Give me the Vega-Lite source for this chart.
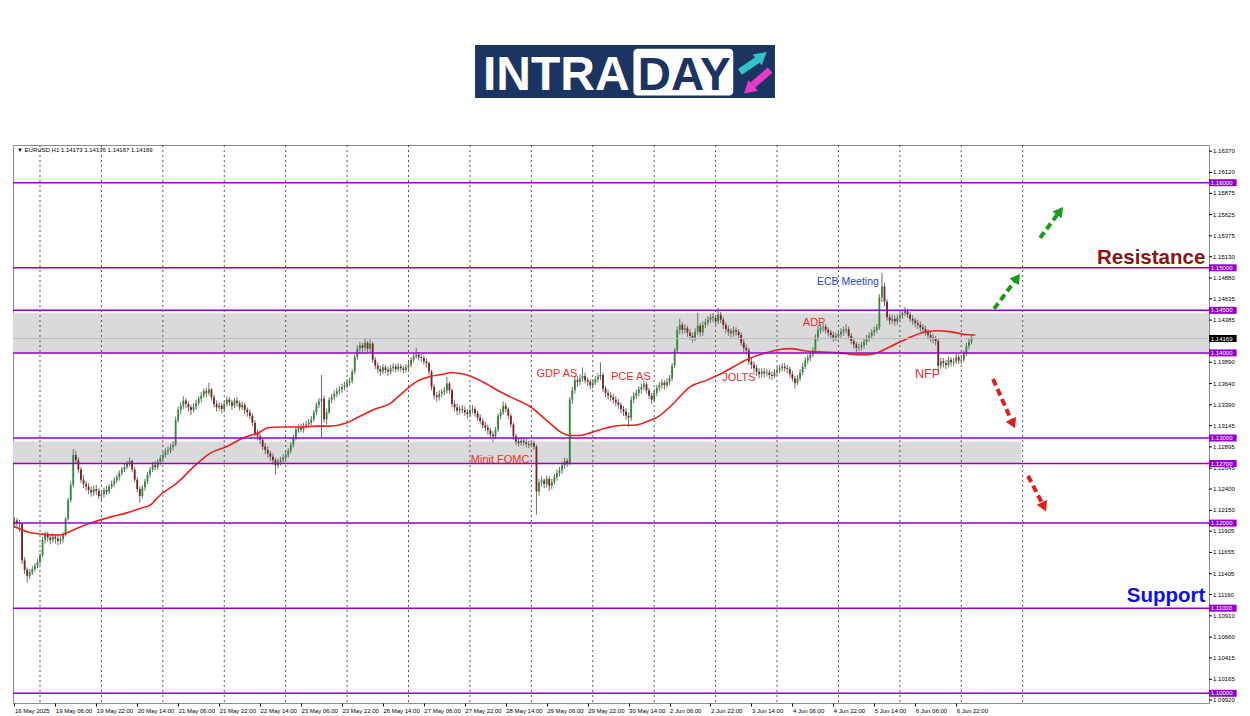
{
"$schema":"https://vega.github.io/schema/vega-lite/v6.json",
"width":1196,"height":558,
"autosize":{"type":"none"},
"padding":{"left":13,"top":145,"right":41,"bottom":13},
"background":"white",
"config":{"view":{"stroke":"#8c8c8c","strokeWidth":1},"font":"Liberation Sans","scale":{"continuousPadding":0}},
"datasets":{
"c":[
{"i":0,"o":1.1198,"h":1.1207,"l":1.1194,"c":1.1203},{"i":1,"o":1.1203,"h":1.1206,"l":1.1196,"c":1.1200},{"i":2,"o":1.1200,"h":1.1204,"l":1.1190,"c":1.1199},{"i":3,"o":1.1199,"h":1.1201,"l":1.1152,"c":1.1156},{"i":4,"o":1.1156,"h":1.1160,"l":1.1140,"c":1.1145},{"i":5,"o":1.1145,"h":1.1148,"l":1.1130,"c":1.1138},{"i":6,"o":1.1138,"h":1.1146,"l":1.1134,"c":1.1142},{"i":7,"o":1.1142,"h":1.1150,"l":1.1139,"c":1.1146},{"i":8,"o":1.1146,"h":1.1153,"l":1.1143,"c":1.1150},{"i":9,"o":1.1150,"h":1.1158,"l":1.1147,"c":1.1154},
{"i":10,"o":1.1154,"h":1.1165,"l":1.1151,"c":1.1162},{"i":11,"o":1.1162,"h":1.1184,"l":1.1160,"c":1.1180},{"i":12,"o":1.1180,"h":1.1190,"l":1.1176,"c":1.1186},{"i":13,"o":1.1186,"h":1.1190,"l":1.1178,"c":1.1183},{"i":14,"o":1.1183,"h":1.1187,"l":1.1175,"c":1.1180},{"i":15,"o":1.1180,"h":1.1188,"l":1.1177,"c":1.1184},{"i":16,"o":1.1184,"h":1.1187,"l":1.1176,"c":1.1182},{"i":17,"o":1.1182,"h":1.1186,"l":1.1174,"c":1.1179},{"i":18,"o":1.1179,"h":1.1185,"l":1.1175,"c":1.1181},{"i":19,"o":1.1181,"h":1.1189,"l":1.1177,"c":1.1186},
{"i":20,"o":1.1186,"h":1.1207,"l":1.1184,"c":1.1205},{"i":21,"o":1.1205,"h":1.1230,"l":1.1203,"c":1.1227},{"i":22,"o":1.1227,"h":1.1249,"l":1.1224,"c":1.1245},{"i":23,"o":1.1245,"h":1.1287,"l":1.1242,"c":1.1280},{"i":24,"o":1.1280,"h":1.1285,"l":1.1270,"c":1.1274},{"i":25,"o":1.1274,"h":1.1277,"l":1.1259,"c":1.1263},{"i":26,"o":1.1263,"h":1.1266,"l":1.1247,"c":1.1251},{"i":27,"o":1.1251,"h":1.1256,"l":1.1241,"c":1.1246},{"i":28,"o":1.1246,"h":1.1250,"l":1.1238,"c":1.1243},{"i":29,"o":1.1243,"h":1.1247,"l":1.1234,"c":1.1239},
{"i":30,"o":1.1239,"h":1.1243,"l":1.1231,"c":1.1236},{"i":31,"o":1.1236,"h":1.1244,"l":1.1232,"c":1.1240},{"i":32,"o":1.1240,"h":1.1245,"l":1.1233,"c":1.1238},{"i":33,"o":1.1238,"h":1.1241,"l":1.1228,"c":1.1232},{"i":34,"o":1.1232,"h":1.1238,"l":1.1226,"c":1.1234},{"i":35,"o":1.1234,"h":1.1242,"l":1.1230,"c":1.1239},{"i":36,"o":1.1239,"h":1.1244,"l":1.1233,"c":1.1237},{"i":37,"o":1.1237,"h":1.1246,"l":1.1234,"c":1.1243},{"i":38,"o":1.1243,"h":1.1250,"l":1.1240,"c":1.1246},{"i":39,"o":1.1246,"h":1.1254,"l":1.1243,"c":1.1250},
{"i":40,"o":1.1250,"h":1.1257,"l":1.1247,"c":1.1254},{"i":41,"o":1.1254,"h":1.1262,"l":1.1250,"c":1.1259},{"i":42,"o":1.1259,"h":1.1266,"l":1.1256,"c":1.1263},{"i":43,"o":1.1263,"h":1.1270,"l":1.1260,"c":1.1266},{"i":44,"o":1.1266,"h":1.1273,"l":1.1263,"c":1.1270},{"i":45,"o":1.1270,"h":1.1277,"l":1.1266,"c":1.1273},{"i":46,"o":1.1273,"h":1.1275,"l":1.1260,"c":1.1263},{"i":47,"o":1.1263,"h":1.1266,"l":1.1248,"c":1.1251},{"i":48,"o":1.1251,"h":1.1254,"l":1.1236,"c":1.1240},{"i":49,"o":1.1240,"h":1.1243,"l":1.1224,"c":1.1232},
{"i":50,"o":1.1232,"h":1.1245,"l":1.1229,"c":1.1242},{"i":51,"o":1.1242,"h":1.1252,"l":1.1238,"c":1.1249},{"i":52,"o":1.1249,"h":1.1260,"l":1.1246,"c":1.1257},{"i":53,"o":1.1257,"h":1.1266,"l":1.1253,"c":1.1263},{"i":54,"o":1.1263,"h":1.1272,"l":1.1260,"c":1.1268},{"i":55,"o":1.1268,"h":1.1273,"l":1.1262,"c":1.1266},{"i":56,"o":1.1266,"h":1.1275,"l":1.1263,"c":1.1272},{"i":57,"o":1.1272,"h":1.1280,"l":1.1268,"c":1.1276},{"i":58,"o":1.1276,"h":1.1284,"l":1.1273,"c":1.1280},{"i":59,"o":1.1280,"h":1.1288,"l":1.1277,"c":1.1284},
{"i":60,"o":1.1284,"h":1.1290,"l":1.1280,"c":1.1286},{"i":61,"o":1.1286,"h":1.1293,"l":1.1282,"c":1.1289},{"i":62,"o":1.1289,"h":1.1296,"l":1.1285,"c":1.1292},{"i":63,"o":1.1292,"h":1.1325,"l":1.1290,"c":1.1321},{"i":64,"o":1.1321,"h":1.1337,"l":1.1318,"c":1.1333},{"i":65,"o":1.1333,"h":1.1342,"l":1.1328,"c":1.1338},{"i":66,"o":1.1338,"h":1.1349,"l":1.1334,"c":1.1344},{"i":67,"o":1.1344,"h":1.1347,"l":1.1335,"c":1.1340},{"i":68,"o":1.1340,"h":1.1343,"l":1.1331,"c":1.1336},{"i":69,"o":1.1336,"h":1.1339,"l":1.1327,"c":1.1333},
{"i":70,"o":1.1333,"h":1.1341,"l":1.1330,"c":1.1337},{"i":71,"o":1.1337,"h":1.1345,"l":1.1333,"c":1.1341},{"i":72,"o":1.1341,"h":1.1349,"l":1.1338,"c":1.1346},{"i":73,"o":1.1346,"h":1.1354,"l":1.1342,"c":1.1350},{"i":74,"o":1.1350,"h":1.1358,"l":1.1347,"c":1.1355},{"i":75,"o":1.1355,"h":1.1359,"l":1.1348,"c":1.1353},{"i":76,"o":1.1353,"h":1.1365,"l":1.1350,"c":1.1357},{"i":77,"o":1.1357,"h":1.1359,"l":1.1344,"c":1.1348},{"i":78,"o":1.1348,"h":1.1351,"l":1.1336,"c":1.1340},{"i":79,"o":1.1340,"h":1.1344,"l":1.1331,"c":1.1336},
{"i":80,"o":1.1336,"h":1.1342,"l":1.1332,"c":1.1338},{"i":81,"o":1.1338,"h":1.1341,"l":1.1329,"c":1.1334},{"i":82,"o":1.1334,"h":1.1343,"l":1.1331,"c":1.1340},{"i":83,"o":1.1340,"h":1.1349,"l":1.1337,"c":1.1345},{"i":84,"o":1.1345,"h":1.1348,"l":1.1338,"c":1.1342},{"i":85,"o":1.1342,"h":1.1345,"l":1.1333,"c":1.1338},{"i":86,"o":1.1338,"h":1.1347,"l":1.1335,"c":1.1344},{"i":87,"o":1.1344,"h":1.1348,"l":1.1337,"c":1.1341},{"i":88,"o":1.1341,"h":1.1344,"l":1.1332,"c":1.1336},{"i":89,"o":1.1336,"h":1.1343,"l":1.1333,"c":1.1339},
{"i":90,"o":1.1339,"h":1.1342,"l":1.1328,"c":1.1333},{"i":91,"o":1.1333,"h":1.1336,"l":1.1325,"c":1.1330},{"i":92,"o":1.1330,"h":1.1334,"l":1.1322,"c":1.1326},{"i":93,"o":1.1326,"h":1.1329,"l":1.1314,"c":1.1318},{"i":94,"o":1.1318,"h":1.1321,"l":1.1302,"c":1.1306},{"i":95,"o":1.1306,"h":1.1310,"l":1.1297,"c":1.1302},{"i":96,"o":1.1302,"h":1.1306,"l":1.1293,"c":1.1298},{"i":97,"o":1.1298,"h":1.1301,"l":1.1286,"c":1.1290},{"i":98,"o":1.1290,"h":1.1294,"l":1.1281,"c":1.1286},{"i":99,"o":1.1286,"h":1.1290,"l":1.1277,"c":1.1282},
{"i":100,"o":1.1282,"h":1.1285,"l":1.1273,"c":1.1278},{"i":101,"o":1.1278,"h":1.1282,"l":1.1269,"c":1.1274},{"i":102,"o":1.1274,"h":1.1277,"l":1.1257,"c":1.1268},{"i":103,"o":1.1268,"h":1.1276,"l":1.1264,"c":1.1272},{"i":104,"o":1.1272,"h":1.1278,"l":1.1268,"c":1.1274},{"i":105,"o":1.1274,"h":1.1281,"l":1.1270,"c":1.1277},{"i":106,"o":1.1277,"h":1.1284,"l":1.1273,"c":1.1280},{"i":107,"o":1.1280,"h":1.1288,"l":1.1277,"c":1.1285},{"i":108,"o":1.1285,"h":1.1295,"l":1.1282,"c":1.1292},{"i":109,"o":1.1292,"h":1.1304,"l":1.1289,"c":1.1300},
{"i":110,"o":1.1300,"h":1.1313,"l":1.1297,"c":1.1310},{"i":111,"o":1.1310,"h":1.1316,"l":1.1306,"c":1.1312},{"i":112,"o":1.1313,"h":1.1317,"l":1.1307,"c":1.1310},{"i":113,"o":1.1310,"h":1.1318,"l":1.1306,"c":1.1314},{"i":114,"o":1.1314,"h":1.1320,"l":1.1311,"c":1.1316},{"i":115,"o":1.1316,"h":1.1322,"l":1.1312,"c":1.1318},{"i":116,"o":1.1318,"h":1.1326,"l":1.1315,"c":1.1322},{"i":117,"o":1.1322,"h":1.1333,"l":1.1319,"c":1.1330},{"i":118,"o":1.1330,"h":1.1342,"l":1.1327,"c":1.1339},{"i":119,"o":1.1339,"h":1.1347,"l":1.1335,"c":1.1343},
{"i":120,"o":1.1343,"h":1.1374,"l":1.1300,"c":1.1346},{"i":121,"o":1.1346,"h":1.1350,"l":1.1318,"c":1.1322},{"i":122,"o":1.1322,"h":1.1334,"l":1.1316,"c":1.1330},{"i":123,"o":1.1330,"h":1.1348,"l":1.1328,"c":1.1345},{"i":124,"o":1.1345,"h":1.1352,"l":1.1341,"c":1.1348},{"i":125,"o":1.1348,"h":1.1356,"l":1.1344,"c":1.1352},{"i":126,"o":1.1352,"h":1.1359,"l":1.1348,"c":1.1355},{"i":127,"o":1.1355,"h":1.1361,"l":1.1351,"c":1.1357},{"i":128,"o":1.1357,"h":1.1364,"l":1.1353,"c":1.1360},{"i":129,"o":1.1360,"h":1.1366,"l":1.1356,"c":1.1362},
{"i":130,"o":1.1362,"h":1.1369,"l":1.1358,"c":1.1365},{"i":131,"o":1.1365,"h":1.1371,"l":1.1361,"c":1.1367},{"i":132,"o":1.1367,"h":1.1381,"l":1.1364,"c":1.1378},{"i":133,"o":1.1378,"h":1.1398,"l":1.1375,"c":1.1395},{"i":134,"o":1.1395,"h":1.1409,"l":1.1392,"c":1.1405},{"i":135,"o":1.1405,"h":1.1413,"l":1.1400,"c":1.1409},{"i":136,"o":1.1409,"h":1.1412,"l":1.1401,"c":1.1406},{"i":137,"o":1.1406,"h":1.1417,"l":1.1402,"c":1.1412},{"i":138,"o":1.1412,"h":1.1414,"l":1.1400,"c":1.1405},{"i":139,"o":1.1405,"h":1.1416,"l":1.1401,"c":1.1411},
{"i":140,"o":1.1411,"h":1.1413,"l":1.1388,"c":1.1392},{"i":141,"o":1.1392,"h":1.1395,"l":1.1381,"c":1.1385},{"i":142,"o":1.1385,"h":1.1389,"l":1.1376,"c":1.1381},{"i":143,"o":1.1381,"h":1.1385,"l":1.1373,"c":1.1378},{"i":144,"o":1.1378,"h":1.1387,"l":1.1375,"c":1.1383},{"i":145,"o":1.1383,"h":1.1386,"l":1.1376,"c":1.1380},{"i":146,"o":1.1380,"h":1.1384,"l":1.1373,"c":1.1378},{"i":147,"o":1.1378,"h":1.1386,"l":1.1375,"c":1.1382},{"i":148,"o":1.1382,"h":1.1388,"l":1.1378,"c":1.1384},{"i":149,"o":1.1384,"h":1.1387,"l":1.1377,"c":1.1381},
{"i":150,"o":1.1381,"h":1.1388,"l":1.1378,"c":1.1384},{"i":151,"o":1.1384,"h":1.1387,"l":1.1378,"c":1.1382},{"i":152,"o":1.1382,"h":1.1385,"l":1.1376,"c":1.1380},{"i":153,"o":1.1380,"h":1.1387,"l":1.1377,"c":1.1383},{"i":154,"o":1.1383,"h":1.1390,"l":1.1379,"c":1.1386},{"i":155,"o":1.1386,"h":1.1395,"l":1.1383,"c":1.1392},{"i":156,"o":1.1392,"h":1.1400,"l":1.1389,"c":1.1396},{"i":157,"o":1.1396,"h":1.1406,"l":1.1393,"c":1.1398},{"i":158,"o":1.1398,"h":1.1401,"l":1.1391,"c":1.1395},{"i":159,"o":1.1395,"h":1.1399,"l":1.1389,"c":1.1394},
{"i":160,"o":1.1394,"h":1.1397,"l":1.1386,"c":1.1390},{"i":161,"o":1.1390,"h":1.1393,"l":1.1383,"c":1.1388},{"i":162,"o":1.1388,"h":1.1390,"l":1.1374,"c":1.1378},{"i":163,"o":1.1378,"h":1.1380,"l":1.1356,"c":1.1360},{"i":164,"o":1.1360,"h":1.1363,"l":1.1345,"c":1.1350},{"i":165,"o":1.1350,"h":1.1354,"l":1.1343,"c":1.1348},{"i":166,"o":1.1348,"h":1.1356,"l":1.1344,"c":1.1352},{"i":167,"o":1.1352,"h":1.1358,"l":1.1348,"c":1.1354},{"i":168,"o":1.1354,"h":1.1360,"l":1.1350,"c":1.1356},{"i":169,"o":1.1356,"h":1.1372,"l":1.1352,"c":1.1364},
{"i":170,"o":1.1364,"h":1.1366,"l":1.1352,"c":1.1356},{"i":171,"o":1.1356,"h":1.1358,"l":1.1336,"c":1.1340},{"i":172,"o":1.1340,"h":1.1344,"l":1.1331,"c":1.1336},{"i":173,"o":1.1336,"h":1.1340,"l":1.1327,"c":1.1332},{"i":174,"o":1.1332,"h":1.1338,"l":1.1328,"c":1.1334},{"i":175,"o":1.1334,"h":1.1339,"l":1.1329,"c":1.1333},{"i":176,"o":1.1333,"h":1.1337,"l":1.1326,"c":1.1330},{"i":177,"o":1.1330,"h":1.1334,"l":1.1323,"c":1.1328},{"i":178,"o":1.1328,"h":1.1337,"l":1.1325,"c":1.1333},{"i":179,"o":1.1333,"h":1.1339,"l":1.1329,"c":1.1334},
{"i":180,"o":1.1334,"h":1.1337,"l":1.1325,"c":1.1329},{"i":181,"o":1.1329,"h":1.1332,"l":1.1320,"c":1.1324},{"i":182,"o":1.1324,"h":1.1328,"l":1.1316,"c":1.1320},{"i":183,"o":1.1320,"h":1.1323,"l":1.1311,"c":1.1315},{"i":184,"o":1.1315,"h":1.1319,"l":1.1308,"c":1.1312},{"i":185,"o":1.1312,"h":1.1316,"l":1.1304,"c":1.1309},{"i":186,"o":1.1309,"h":1.1312,"l":1.1300,"c":1.1304},{"i":187,"o":1.1304,"h":1.1308,"l":1.1295,"c":1.1302},{"i":188,"o":1.1302,"h":1.1313,"l":1.1299,"c":1.1310},{"i":189,"o":1.1310,"h":1.1329,"l":1.1307,"c":1.1326},
{"i":190,"o":1.1326,"h":1.1334,"l":1.1322,"c":1.1330},{"i":191,"o":1.1330,"h":1.1343,"l":1.1327,"c":1.1338},{"i":192,"o":1.1338,"h":1.1341,"l":1.1330,"c":1.1334},{"i":193,"o":1.1334,"h":1.1336,"l":1.1322,"c":1.1326},{"i":194,"o":1.1326,"h":1.1329,"l":1.1312,"c":1.1316},{"i":195,"o":1.1316,"h":1.1318,"l":1.1298,"c":1.1302},{"i":196,"o":1.1302,"h":1.1305,"l":1.1292,"c":1.1296},{"i":197,"o":1.1296,"h":1.1300,"l":1.1290,"c":1.1294},{"i":198,"o":1.1294,"h":1.1301,"l":1.1291,"c":1.1297},{"i":199,"o":1.1297,"h":1.1300,"l":1.1291,"c":1.1295},
{"i":200,"o":1.1295,"h":1.1299,"l":1.1289,"c":1.1293},{"i":201,"o":1.1293,"h":1.1297,"l":1.1288,"c":1.1292},{"i":202,"o":1.1292,"h":1.1298,"l":1.1289,"c":1.1294},{"i":203,"o":1.1294,"h":1.1297,"l":1.1286,"c":1.1290},{"i":204,"o":1.1290,"h":1.1292,"l":1.1210,"c":1.1237},{"i":205,"o":1.1237,"h":1.1252,"l":1.1232,"c":1.1248},{"i":206,"o":1.1248,"h":1.1255,"l":1.1243,"c":1.1250},{"i":207,"o":1.1250,"h":1.1253,"l":1.1241,"c":1.1246},{"i":208,"o":1.1246,"h":1.1256,"l":1.1242,"c":1.1252},{"i":209,"o":1.1252,"h":1.1255,"l":1.1238,"c":1.1244},
{"i":210,"o":1.1244,"h":1.1252,"l":1.1240,"c":1.1248},{"i":211,"o":1.1248,"h":1.1258,"l":1.1245,"c":1.1254},{"i":212,"o":1.1254,"h":1.1263,"l":1.1250,"c":1.1259},{"i":213,"o":1.1259,"h":1.1266,"l":1.1255,"c":1.1262},{"i":214,"o":1.1262,"h":1.1272,"l":1.1258,"c":1.1268},{"i":215,"o":1.1268,"h":1.1277,"l":1.1264,"c":1.1273},{"i":216,"o":1.1273,"h":1.1276,"l":1.1266,"c":1.1270},{"i":217,"o":1.1270,"h":1.1348,"l":1.1268,"c":1.1345},{"i":218,"o":1.1345,"h":1.1360,"l":1.1340,"c":1.1356},{"i":219,"o":1.1356,"h":1.1372,"l":1.1352,"c":1.1368},
{"i":220,"o":1.1368,"h":1.1373,"l":1.1360,"c":1.1366},{"i":221,"o":1.1366,"h":1.1375,"l":1.1362,"c":1.1370},{"i":222,"o":1.1370,"h":1.1383,"l":1.1366,"c":1.1373},{"i":223,"o":1.1373,"h":1.1377,"l":1.1364,"c":1.1368},{"i":224,"o":1.1368,"h":1.1371,"l":1.1361,"c":1.1366},{"i":225,"o":1.1366,"h":1.1369,"l":1.1357,"c":1.1362},{"i":226,"o":1.1362,"h":1.1369,"l":1.1358,"c":1.1365},{"i":227,"o":1.1365,"h":1.1373,"l":1.1362,"c":1.1369},{"i":228,"o":1.1369,"h":1.1376,"l":1.1365,"c":1.1372},{"i":229,"o":1.1372,"h":1.1389,"l":1.1368,"c":1.1374},
{"i":230,"o":1.1374,"h":1.1377,"l":1.1354,"c":1.1358},{"i":231,"o":1.1358,"h":1.1361,"l":1.1348,"c":1.1353},{"i":232,"o":1.1353,"h":1.1357,"l":1.1345,"c":1.1350},{"i":233,"o":1.1350,"h":1.1354,"l":1.1343,"c":1.1348},{"i":234,"o":1.1348,"h":1.1352,"l":1.1340,"c":1.1345},{"i":235,"o":1.1345,"h":1.1349,"l":1.1337,"c":1.1342},{"i":236,"o":1.1342,"h":1.1346,"l":1.1334,"c":1.1339},{"i":237,"o":1.1339,"h":1.1342,"l":1.1329,"c":1.1334},{"i":238,"o":1.1334,"h":1.1338,"l":1.1326,"c":1.1331},{"i":239,"o":1.1331,"h":1.1335,"l":1.1321,"c":1.1326},
{"i":240,"o":1.1326,"h":1.1330,"l":1.1313,"c":1.1324},{"i":241,"o":1.1324,"h":1.1349,"l":1.1320,"c":1.1345},{"i":242,"o":1.1345,"h":1.1354,"l":1.1341,"c":1.1350},{"i":243,"o":1.1350,"h":1.1357,"l":1.1346,"c":1.1353},{"i":244,"o":1.1353,"h":1.1361,"l":1.1349,"c":1.1357},{"i":245,"o":1.1357,"h":1.1364,"l":1.1352,"c":1.1360},{"i":246,"o":1.1360,"h":1.1368,"l":1.1356,"c":1.1363},{"i":247,"o":1.1363,"h":1.1366,"l":1.1352,"c":1.1356},{"i":248,"o":1.1356,"h":1.1359,"l":1.1346,"c":1.1350},{"i":249,"o":1.1350,"h":1.1353,"l":1.1340,"c":1.1345},
{"i":250,"o":1.1345,"h":1.1357,"l":1.1342,"c":1.1353},{"i":251,"o":1.1353,"h":1.1362,"l":1.1349,"c":1.1359},{"i":252,"o":1.1359,"h":1.1366,"l":1.1355,"c":1.1362},{"i":253,"o":1.1362,"h":1.1369,"l":1.1358,"c":1.1365},{"i":254,"o":1.1365,"h":1.1368,"l":1.1357,"c":1.1362},{"i":255,"o":1.1362,"h":1.1370,"l":1.1359,"c":1.1366},{"i":256,"o":1.1366,"h":1.1374,"l":1.1362,"c":1.1370},{"i":257,"o":1.1370,"h":1.1388,"l":1.1367,"c":1.1385},{"i":258,"o":1.1385,"h":1.1406,"l":1.1382,"c":1.1403},{"i":259,"o":1.1403,"h":1.1431,"l":1.1400,"c":1.1427},
{"i":260,"o":1.1427,"h":1.1440,"l":1.1422,"c":1.1433},{"i":261,"o":1.1433,"h":1.1436,"l":1.1422,"c":1.1427},{"i":262,"o":1.1427,"h":1.1434,"l":1.1423,"c":1.1429},{"i":263,"o":1.1429,"h":1.1432,"l":1.1419,"c":1.1424},{"i":264,"o":1.1424,"h":1.1428,"l":1.1415,"c":1.1420},{"i":265,"o":1.1420,"h":1.1424,"l":1.1412,"c":1.1418},{"i":266,"o":1.1418,"h":1.1429,"l":1.1414,"c":1.1425},{"i":267,"o":1.1425,"h":1.1447,"l":1.1421,"c":1.1432},{"i":268,"o":1.1432,"h":1.1435,"l":1.1419,"c":1.1424},{"i":269,"o":1.1424,"h":1.1437,"l":1.1420,"c":1.1433},
{"i":270,"o":1.1433,"h":1.1440,"l":1.1429,"c":1.1436},{"i":271,"o":1.1436,"h":1.1443,"l":1.1432,"c":1.1439},{"i":272,"o":1.1439,"h":1.1446,"l":1.1435,"c":1.1442},{"i":273,"o":1.1442,"h":1.1447,"l":1.1436,"c":1.1441},{"i":274,"o":1.1441,"h":1.1444,"l":1.1432,"c":1.1437},{"i":275,"o":1.1437,"h":1.1453,"l":1.1434,"c":1.1445},{"i":276,"o":1.1445,"h":1.1448,"l":1.1435,"c":1.1439},{"i":277,"o":1.1439,"h":1.1442,"l":1.1428,"c":1.1433},{"i":278,"o":1.1433,"h":1.1436,"l":1.1423,"c":1.1428},{"i":279,"o":1.1428,"h":1.1432,"l":1.1420,"c":1.1425},
{"i":280,"o":1.1425,"h":1.1429,"l":1.1418,"c":1.1423},{"i":281,"o":1.1423,"h":1.1431,"l":1.1419,"c":1.1427},{"i":282,"o":1.1427,"h":1.1430,"l":1.1420,"c":1.1425},{"i":283,"o":1.1425,"h":1.1428,"l":1.1416,"c":1.1421},{"i":284,"o":1.1421,"h":1.1424,"l":1.1408,"c":1.1412},{"i":285,"o":1.1412,"h":1.1416,"l":1.1401,"c":1.1406},{"i":286,"o":1.1406,"h":1.1410,"l":1.1398,"c":1.1403},{"i":287,"o":1.1403,"h":1.1406,"l":1.1386,"c":1.1390},{"i":288,"o":1.1390,"h":1.1394,"l":1.1381,"c":1.1386},{"i":289,"o":1.1386,"h":1.1390,"l":1.1377,"c":1.1382},
{"i":290,"o":1.1382,"h":1.1386,"l":1.1373,"c":1.1378},{"i":291,"o":1.1378,"h":1.1382,"l":1.1370,"c":1.1375},{"i":292,"o":1.1375,"h":1.1382,"l":1.1371,"c":1.1378},{"i":293,"o":1.1378,"h":1.1382,"l":1.1371,"c":1.1376},{"i":294,"o":1.1376,"h":1.1381,"l":1.1372,"c":1.1377},{"i":295,"o":1.1377,"h":1.1380,"l":1.1369,"c":1.1374},{"i":296,"o":1.1374,"h":1.1378,"l":1.1368,"c":1.1373},{"i":297,"o":1.1373,"h":1.1381,"l":1.1370,"c":1.1377},{"i":298,"o":1.1377,"h":1.1384,"l":1.1373,"c":1.1380},{"i":299,"o":1.1380,"h":1.1386,"l":1.1376,"c":1.1382},
{"i":300,"o":1.1382,"h":1.1388,"l":1.1378,"c":1.1384},{"i":301,"o":1.1384,"h":1.1388,"l":1.1378,"c":1.1382},{"i":302,"o":1.1382,"h":1.1386,"l":1.1376,"c":1.1381},{"i":303,"o":1.1381,"h":1.1384,"l":1.1371,"c":1.1375},{"i":304,"o":1.1375,"h":1.1379,"l":1.1366,"c":1.1370},{"i":305,"o":1.1370,"h":1.1373,"l":1.1358,"c":1.1365},{"i":306,"o":1.1365,"h":1.1374,"l":1.1362,"c":1.1370},{"i":307,"o":1.1370,"h":1.1381,"l":1.1367,"c":1.1377},{"i":308,"o":1.1377,"h":1.1388,"l":1.1374,"c":1.1384},{"i":309,"o":1.1384,"h":1.1395,"l":1.1381,"c":1.1391},
{"i":310,"o":1.1391,"h":1.1398,"l":1.1387,"c":1.1394},{"i":311,"o":1.1394,"h":1.1402,"l":1.1390,"c":1.1398},{"i":312,"o":1.1398,"h":1.1407,"l":1.1395,"c":1.1403},{"i":313,"o":1.1403,"h":1.1422,"l":1.1400,"c":1.1418},{"i":314,"o":1.1418,"h":1.1433,"l":1.1414,"c":1.1427},{"i":315,"o":1.1427,"h":1.1434,"l":1.1423,"c":1.1430},{"i":316,"o":1.1430,"h":1.1435,"l":1.1425,"c":1.1431},{"i":317,"o":1.1431,"h":1.1434,"l":1.1423,"c":1.1427},{"i":318,"o":1.1427,"h":1.1430,"l":1.1419,"c":1.1424},{"i":319,"o":1.1424,"h":1.1427,"l":1.1416,"c":1.1421},
{"i":320,"o":1.1421,"h":1.1425,"l":1.1413,"c":1.1418},{"i":321,"o":1.1418,"h":1.1424,"l":1.1414,"c":1.1420},{"i":322,"o":1.1420,"h":1.1426,"l":1.1416,"c":1.1422},{"i":323,"o":1.1422,"h":1.1429,"l":1.1418,"c":1.1425},{"i":324,"o":1.1425,"h":1.1431,"l":1.1420,"c":1.1427},{"i":325,"o":1.1427,"h":1.1434,"l":1.1423,"c":1.1428},{"i":326,"o":1.1428,"h":1.1431,"l":1.1416,"c":1.1420},{"i":327,"o":1.1420,"h":1.1423,"l":1.1410,"c":1.1414},{"i":328,"o":1.1414,"h":1.1418,"l":1.1405,"c":1.1410},{"i":329,"o":1.1410,"h":1.1413,"l":1.1401,"c":1.1406},
{"i":330,"o":1.1406,"h":1.1411,"l":1.1402,"c":1.1407},{"i":331,"o":1.1407,"h":1.1413,"l":1.1403,"c":1.1409},{"i":332,"o":1.1409,"h":1.1417,"l":1.1405,"c":1.1413},{"i":333,"o":1.1413,"h":1.1421,"l":1.1409,"c":1.1417},{"i":334,"o":1.1417,"h":1.1424,"l":1.1413,"c":1.1420},{"i":335,"o":1.1420,"h":1.1428,"l":1.1416,"c":1.1424},{"i":336,"o":1.1424,"h":1.1431,"l":1.1420,"c":1.1427},{"i":337,"o":1.1427,"h":1.1434,"l":1.1423,"c":1.1430},{"i":338,"o":1.1430,"h":1.1469,"l":1.1427,"c":1.1465},{"i":339,"o":1.1465,"h":1.1494,"l":1.1460,"c":1.1478},
{"i":340,"o":1.1478,"h":1.1482,"l":1.1455,"c":1.1460},{"i":341,"o":1.1460,"h":1.1463,"l":1.1438,"c":1.1442},{"i":342,"o":1.1442,"h":1.1446,"l":1.1433,"c":1.1438},{"i":343,"o":1.1438,"h":1.1445,"l":1.1434,"c":1.1440},{"i":344,"o":1.1440,"h":1.1444,"l":1.1432,"c":1.1437},{"i":345,"o":1.1437,"h":1.1445,"l":1.1433,"c":1.1441},{"i":346,"o":1.1441,"h":1.1448,"l":1.1437,"c":1.1444},{"i":347,"o":1.1444,"h":1.1451,"l":1.1440,"c":1.1447},{"i":348,"o":1.1447,"h":1.1454,"l":1.1443,"c":1.1450},{"i":349,"o":1.1450,"h":1.1452,"l":1.1441,"c":1.1445},
{"i":350,"o":1.1445,"h":1.1448,"l":1.1436,"c":1.1440},{"i":351,"o":1.1440,"h":1.1444,"l":1.1433,"c":1.1438},{"i":352,"o":1.1438,"h":1.1441,"l":1.1430,"c":1.1435},{"i":353,"o":1.1435,"h":1.1439,"l":1.1428,"c":1.1433},{"i":354,"o":1.1433,"h":1.1437,"l":1.1425,"c":1.1430},{"i":355,"o":1.1430,"h":1.1434,"l":1.1423,"c":1.1428},{"i":356,"o":1.1428,"h":1.1432,"l":1.1420,"c":1.1425},{"i":357,"o":1.1425,"h":1.1428,"l":1.1416,"c":1.1421},{"i":358,"o":1.1421,"h":1.1425,"l":1.1413,"c":1.1418},{"i":359,"o":1.1418,"h":1.1422,"l":1.1411,"c":1.1416},
{"i":360,"o":1.1416,"h":1.1420,"l":1.1409,"c":1.1414},{"i":361,"o":1.1414,"h":1.1417,"l":1.1377,"c":1.1385},{"i":362,"o":1.1385,"h":1.1394,"l":1.1381,"c":1.1390},{"i":363,"o":1.1390,"h":1.1394,"l":1.1383,"c":1.1388},{"i":364,"o":1.1388,"h":1.1392,"l":1.1381,"c":1.1386},{"i":365,"o":1.1386,"h":1.1396,"l":1.1383,"c":1.1392},{"i":366,"o":1.1392,"h":1.1395,"l":1.1384,"c":1.1389},{"i":367,"o":1.1389,"h":1.1394,"l":1.1385,"c":1.1390},{"i":368,"o":1.1390,"h":1.1399,"l":1.1387,"c":1.1395},{"i":369,"o":1.1395,"h":1.1398,"l":1.1387,"c":1.1391},
{"i":370,"o":1.1391,"h":1.1396,"l":1.1387,"c":1.1392},{"i":371,"o":1.1392,"h":1.1403,"l":1.1389,"c":1.1399},{"i":372,"o":1.1399,"h":1.1412,"l":1.1396,"c":1.1408},{"i":373,"o":1.1408,"h":1.1417,"l":1.1404,"c":1.1413},{"i":374,"o":1.1413,"h":1.1422,"l":1.1410,"c":1.1418},{"i":375,"o":1.14173,"h":1.14176,"l":1.14167,"c":1.14169}
],
"ma":[
{"i":0,"p":1.1196},{"i":6,"p":1.1189},{"i":11,"p":1.1187},{"i":18,"p":1.1186},{"i":20,"p":1.1188},{"i":24.5,"p":1.1194},{"i":30.7,"p":1.1201},{"i":37.4,"p":1.1207},{"i":44,"p":1.1212},{"i":50,"p":1.1218},{"i":53,"p":1.1221},{"i":57,"p":1.1233},{"i":63.5,"p":1.1247},{"i":70,"p":1.1266},{"i":76.4,"p":1.1282},{"i":83,"p":1.1290},{"i":89.3,"p":1.1300},{"i":96,"p":1.1307},{"i":99,"p":1.1312},{"i":105,"p":1.1313},{"i":112,"p":1.1313},{"i":118,"p":1.1314},{"i":123,"p":1.1314},{"i":130,"p":1.1318},{"i":134,"p":1.1324},{"i":140,"p":1.1333},{"i":147,"p":1.1341},{"i":152,"p":1.1354},{"i":157,"p":1.1366},{"i":162,"p":1.1372},{"i":167.5,"p":1.1375},{"i":171,"p":1.1377},{"i":177,"p":1.1374},{"i":183,"p":1.1366},{"i":190,"p":1.1354},{"i":194,"p":1.1348},{"i":201.5,"p":1.1337},{"i":209,"p":1.1318},{"i":214,"p":1.1306},{"i":217,"p":1.1303},{"i":221,"p":1.1303},{"i":225,"p":1.1306},{"i":231.6,"p":1.1312},{"i":238,"p":1.1315},{"i":242,"p":1.1315},{"i":247,"p":1.1319},{"i":252,"p":1.1326},{"i":257,"p":1.1339},{"i":264,"p":1.1360},{"i":270.6,"p":1.1368},{"i":277,"p":1.1377},{"i":283.5,"p":1.1388},{"i":286,"p":1.1392},{"i":292.5,"p":1.1399},{"i":299,"p":1.1404},{"i":303,"p":1.1405},{"i":310,"p":1.1402},{"i":316,"p":1.1401},{"i":322.6,"p":1.1400},{"i":329,"p":1.1398},{"i":334,"p":1.1398},{"i":337,"p":1.1400},{"i":342,"p":1.1407},{"i":349,"p":1.1417},{"i":355,"p":1.1424},{"i":360.5,"p":1.1426},{"i":365.6,"p":1.1425},{"i":370.7,"p":1.1422},{"i":375.5,"p":1.1421}
],
"sep":[{"i":10},{"i":34},{"i":58},{"i":82},{"i":106},{"i":130},{"i":154},{"i":178},{"i":202},{"i":226},{"i":250},{"i":274},{"i":298},{"i":322},{"i":346},{"i":370},{"i":394}],
"lvl":[{"p":1.16},{"p":1.15},{"p":1.145},{"p":1.14},{"p":1.13},{"p":1.127},{"p":1.12},{"p":1.11},{"p":1.10}],
"yt":[{"p":1.1637},{"p":1.1612},{"p":1.15875},{"p":1.15625},{"p":1.15375},{"p":1.1513},{"p":1.1488},{"p":1.14635},{"p":1.14385},{"p":1.1389},{"p":1.1364},{"p":1.1339},{"p":1.13145},{"p":1.12895},{"p":1.12645},{"p":1.124},{"p":1.1215},{"p":1.11905},{"p":1.11655},{"p":1.11405},{"p":1.1116},{"p":1.1091},{"p":1.1066},{"p":1.10415},{"p":1.10165},{"p":1.0992}],
"cur":[{"p":1.14169}],
"zones":[{"i":-0.55,"i2":466.8,"p":1.14,"p2":1.14465},{"i":-0.55,"i2":393.5,"p":1.12705,"p2":1.1296}],
"ev":[{"i":212.0,"p":1.13753,"t":"GDP AS"},{"i":240.9,"p":1.13718,"t":"PCE AS"},{"i":283.1,"p":1.13706,"t":"JOLTS"},{"i":312.5,"p":1.14353,"t":"ADP"},{"i":189.8,"p":1.12743,"t":"Minit FOMC"}],
"arr":[{"i":382.8,"p":1.14517,"i2":391.8,"p2":1.14881,"dir":"up"},{"i":400.8,"p":1.15351,"i2":408.6,"p2":1.15669,"dir":"up"},{"i":382.4,"p":1.13694,"i2":390.2,"p2":1.13166,"dir":"down"},{"i":396.1,"p":1.12555,"i2":402.3,"p2":1.1219,"dir":"down"}]
},
"layer":[
{"data":{"name":"zones"},"mark":{"type":"rect","color":"#dadada"},
 "encoding":{"x":{"field":"i","type":"quantitative","scale":{"domain":[-0.55,466.8],"nice":false,"zero":false,"padding":0}},"x2":{"field":"i2"},
 "y":{"field":"p","type":"quantitative","scale":{"domain":[1.09886,1.16443],"nice":false,"zero":false,"padding":0}},"y2":{"field":"p2"}}},
{"data":{"name":"sep"},"mark":{"type":"rule","stroke":"#555555","strokeDash":[2,3],"strokeWidth":1},
 "encoding":{"x":{"field":"i","type":"quantitative"}}},
{"data":{"name":"c"},"mark":{"type":"rule","stroke":"#6e6e6e","strokeWidth":1},
 "encoding":{
 "x":{"field":"i","type":"quantitative","scale":{"domain":[-0.55,466.8],"nice":false,"zero":false,"padding":0},
  "axis":{"values":[0,16,32,48,64,80,96,112,128,144,160,176,192,208,224,240,256,272,288,304,320,336,352,368],
  "labelExpr":"['16 May 2025','19 May 06:00','19 May 22:00','20 May 14:00','21 May 06:00','21 May 22:00','22 May 14:00','23 May 06:00','23 May 22:00','26 May 14:00','27 May 06:00','27 May 22:00','28 May 14:00','29 May 06:00','29 May 22:00','30 May 14:00','2 Jun 06:00','2 Jun 22:00','3 Jun 14:00','4 Jun 06:00','4 Jun 22:00','5 Jun 14:00','6 Jun 06:00','6 Jun 22:00'][round(datum.value/16)]",
  "labelAlign":"left","labelFontSize":6,"labelFont":"Liberation Sans","labelColor":"#000000","tickSize":3,"tickColor":"#000000","labelPadding":1,"labelOverlap":false,"labelFlush":false,"labelBound":false,"domain":false,"grid":false,"title":null}},
 "y":{"field":"l","type":"quantitative","scale":{"domain":[1.09886,1.16443],"nice":false,"zero":false,"padding":0},
  "axis":{"orient":"right","labels":false,"ticks":false,"domain":false,"grid":false,"title":null}},
 "y2":{"field":"h"}}},
{"data":{"name":"c"},"mark":{"type":"bar","width":1.8},
 "encoding":{"x":{"field":"i","type":"quantitative"},
 "y":{"field":"o","type":"quantitative"},"y2":{"field":"c"},
 "color":{"condition":{"test":"datum.c >= datum.o","value":"#2e8b2e"},"value":"#7a1f1f"}}},
{"data":{"name":"ma"},"mark":{"type":"line","color":"#e8231c","strokeWidth":1.6,"interpolate":"monotone"},
 "encoding":{"x":{"field":"i","type":"quantitative"},"y":{"field":"p","type":"quantitative"}}},
{"data":{"name":"lvl"},"mark":{"type":"rule","stroke":"#9400d3","strokeWidth":1.5},
 "encoding":{"y":{"field":"p","type":"quantitative"}}},
{"data":{"name":"cur"},"mark":{"type":"rule","stroke":"#bdbdbd","strokeWidth":1},
 "encoding":{"y":{"field":"p","type":"quantitative"}}},
{"data":{"name":"yt"},"mark":{"type":"rule","stroke":"#000000","strokeWidth":1,"clip":false},
 "encoding":{"x":{"datum":466.8,"type":"quantitative"},"x2":{"datum":468.0},"y":{"field":"p","type":"quantitative"}}},
{"data":{"name":"yt"},"mark":{"type":"text","color":"#000000","fontSize":6,"align":"left","baseline":"middle","clip":false},
 "encoding":{"x":{"datum":468.4,"type":"quantitative"},"y":{"field":"p","type":"quantitative"},"text":{"field":"p","format":".5f"}}},
{"data":{"name":"lvl"},"mark":{"type":"bar","height":7,"color":"#9400d3","clip":false},
 "encoding":{"x":{"datum":466.8,"type":"quantitative"},"x2":{"datum":477.6},"y":{"field":"p","type":"quantitative"}}},
{"data":{"name":"lvl"},"mark":{"type":"text","color":"#ffffff","fontSize":6,"align":"left","baseline":"middle","clip":false},
 "encoding":{"x":{"datum":467.5,"type":"quantitative"},"y":{"field":"p","type":"quantitative"},"text":{"field":"p","format":".5f"}}},
{"data":{"name":"cur"},"mark":{"type":"bar","height":7,"color":"#000000","clip":false},
 "encoding":{"x":{"datum":466.8,"type":"quantitative"},"x2":{"datum":477.6},"y":{"field":"p","type":"quantitative"}}},
{"data":{"name":"cur"},"mark":{"type":"text","color":"#ffffff","fontSize":6,"align":"left","baseline":"middle","clip":false},
 "encoding":{"x":{"datum":467.5,"type":"quantitative"},"y":{"field":"p","type":"quantitative"},"text":{"field":"p","format":".5f"}}},
{"data":{"values":[{"i":1.0,"p":1.16384,"t":"▼ EURUSD,H1  1.14173 1.14176 1.14167 1.14169"}]},"mark":{"type":"text","fontSize":6,"align":"left","baseline":"middle","color":"#000000"},
 "encoding":{"x":{"field":"i","type":"quantitative"},"y":{"field":"p","type":"quantitative"},"text":{"field":"t"}}},
{"data":{"name":"ev"},"mark":{"type":"text","fontSize":11,"align":"center","baseline":"middle","color":"#e5302a"},
 "encoding":{"x":{"field":"i","type":"quantitative"},"y":{"field":"p","type":"quantitative"},"text":{"field":"t"}}},
{"data":{"values":[{"i":356.8,"p":1.13752,"t":"NFP"}]},"mark":{"type":"text","fontSize":12.5,"align":"center","baseline":"middle","color":"#e5302a"},
 "encoding":{"x":{"field":"i","type":"quantitative"},"y":{"field":"p","type":"quantitative"},"text":{"field":"t"}}},
{"data":{"values":[{"i":325.7,"p":1.14834,"t":"ECB Meeting"}]},"mark":{"type":"text","fontSize":10.5,"align":"center","baseline":"middle","color":"#2a3fd6"},
 "encoding":{"x":{"field":"i","type":"quantitative"},"y":{"field":"p","type":"quantitative"},"text":{"field":"t"}}},
{"data":{"values":[{"i":444.2,"p":1.15116,"t":"Resistance"}]},"mark":{"type":"text","fontSize":20.5,"fontWeight":"bold","align":"center","baseline":"middle","color":"#8b1515"},
 "encoding":{"x":{"field":"i","type":"quantitative"},"y":{"field":"p","type":"quantitative"},"text":{"field":"t"}}},
{"data":{"values":[{"i":450.0,"p":1.11145,"t":"Support"}]},"mark":{"type":"text","fontSize":20.5,"fontWeight":"bold","align":"center","baseline":"middle","color":"#0d10e6"},
 "encoding":{"x":{"field":"i","type":"quantitative"},"y":{"field":"p","type":"quantitative"},"text":{"field":"t"}}},
{"data":{"name":"arr"},"mark":{"type":"rule","strokeWidth":4,"strokeDash":[7,4]},
 "encoding":{"x":{"field":"i","type":"quantitative"},"x2":{"field":"i2"},"y":{"field":"p","type":"quantitative"},"y2":{"field":"p2"},
 "color":{"field":"dir","type":"nominal","scale":{"domain":["up","down"],"range":["#1a9a1a","#e01e1e"]},"legend":null}}},
{"data":{"name":"arr"},"transform":[{"filter":"datum.dir == 'up'"}],"mark":{"type":"point","shape":"triangle-up","filled":true,"size":130,"angle":37,"color":"#1a9a1a","opacity":1},
 "encoding":{"x":{"field":"i2","type":"quantitative"},"y":{"field":"p2","type":"quantitative"}}},
{"data":{"name":"arr"},"transform":[{"filter":"datum.dir == 'down'"}],"mark":{"type":"point","shape":"triangle-up","filled":true,"size":130,"angle":155,"color":"#e01e1e","opacity":1},
 "encoding":{"x":{"field":"i2","type":"quantitative"},"y":{"field":"p2","type":"quantitative"}}},
{"data":{"values":[{"i":180.0,"i2":297.2,"p":1.16995,"p2":1.17618}]},"mark":{"type":"rect","color":"#1c3461","clip":false},
 "encoding":{"x":{"field":"i","type":"quantitative"},"x2":{"field":"i2"},"y":{"field":"p","type":"quantitative"},"y2":{"field":"p2"}}},
{"data":{"values":[{"i":241.9,"i2":280.9,"p":1.17025,"p2":1.17575}]},"mark":{"type":"rect","color":"#ffffff","cornerRadius":4,"clip":false},
 "encoding":{"x":{"field":"i","type":"quantitative"},"x2":{"field":"i2"},"y":{"field":"p","type":"quantitative"},"y2":{"field":"p2"}}},
{"data":{"values":[{"i":183.1,"p":1.17089,"t":"INTRA"}]},"mark":{"type":"text","fontSize":48,"fontWeight":"bold","align":"left","baseline":"alphabetic","color":"#ffffff","clip":false},
 "encoding":{"x":{"field":"i","type":"quantitative"},"y":{"field":"p","type":"quantitative"},"text":{"field":"t"}}},
{"data":{"values":[{"i":243.6,"p":1.17089,"t":"DAY"}]},"mark":{"type":"text","fontSize":46,"fontWeight":"bold","align":"left","baseline":"alphabetic","color":"#1c3461","clip":false},
 "encoding":{"x":{"field":"i","type":"quantitative"},"y":{"field":"p","type":"quantitative"},"text":{"field":"t"}}},
{"data":{"values":[{"i":283.5,"p":1.17301,"i2":291.0,"p2":1.17455}]},"mark":{"type":"rule","color":"#2ec4c9","strokeWidth":7,"clip":false},
 "encoding":{"x":{"field":"i","type":"quantitative"},"x2":{"field":"i2"},"y":{"field":"p","type":"quantitative"},"y2":{"field":"p2"}}},
{"data":{"values":[{"i":292.1,"p":1.17489}]},"mark":{"type":"point","shape":"triangle-up","filled":true,"size":200,"angle":50,"color":"#2ec4c9","opacity":1,"clip":false},
 "encoding":{"x":{"field":"i","type":"quantitative"},"y":{"field":"p","type":"quantitative"}}},
{"data":{"values":[{"i":295.3,"p":1.17324,"i2":288.5,"p2":1.17146}]},"mark":{"type":"rule","color":"#e63cc8","strokeWidth":7,"clip":false},
 "encoding":{"x":{"field":"i","type":"quantitative"},"x2":{"field":"i2"},"y":{"field":"p","type":"quantitative"},"y2":{"field":"p2"}}},
{"data":{"values":[{"i":286.9,"p":1.17095}]},"mark":{"type":"point","shape":"triangle-up","filled":true,"size":200,"angle":228,"color":"#e63cc8","opacity":1,"clip":false},
 "encoding":{"x":{"field":"i","type":"quantitative"},"y":{"field":"p","type":"quantitative"}}}
]
}
